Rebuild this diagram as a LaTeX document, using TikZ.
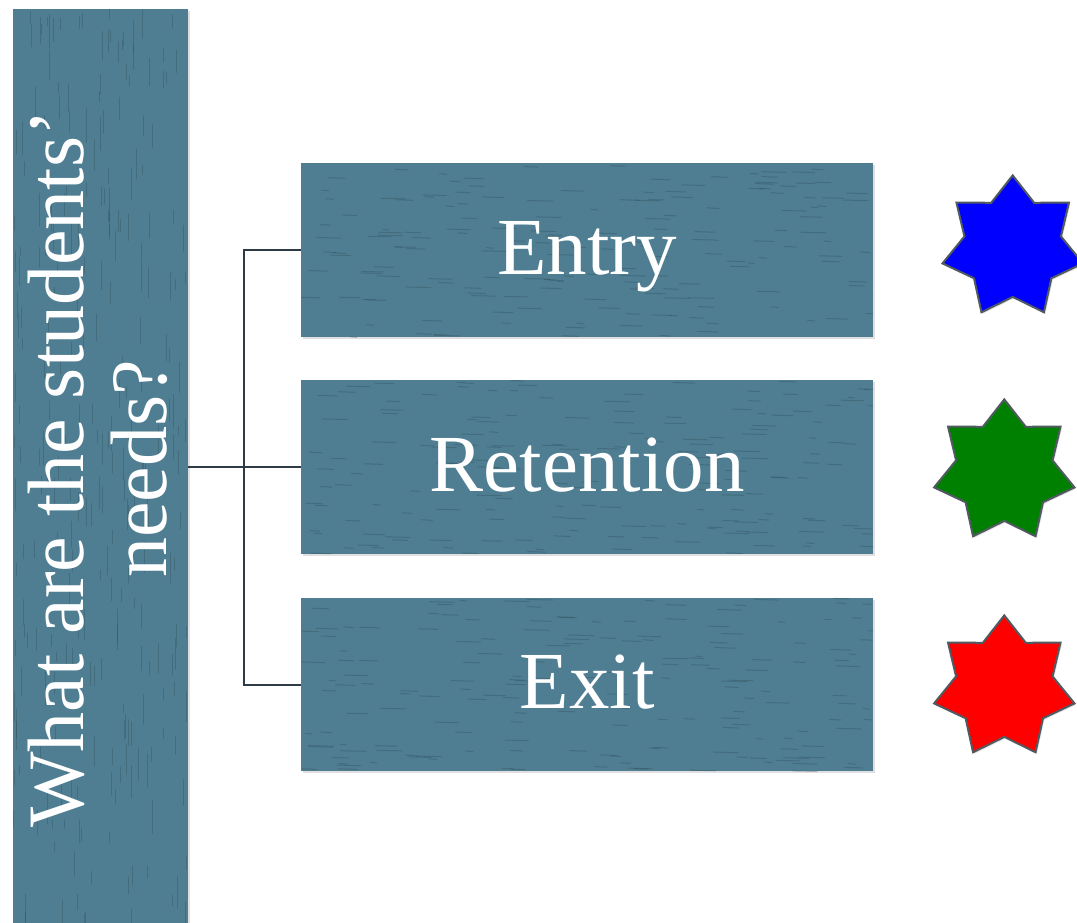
\documentclass[tikz,border=0pt]{standalone}
\usepackage{fontspec}
\setmainfont{Liberation Serif}
\usetikzlibrary{shadows}
\definecolor{tealbox}{RGB}{79,126,146}
\definecolor{streak}{RGB}{36,62,74}
\definecolor{connc}{RGB}{46,59,69}
\definecolor{starline}{RGB}{80,90,96}
\definecolor{starblue}{RGB}{0,0,255}
\definecolor{stargreen}{RGB}{0,128,0}
\definecolor{starred}{RGB}{255,0,0}
\begin{document}
\begin{tikzpicture}[x=1pt,y=-1pt,
  panel/.style={rectangle, fill=tealbox, inner sep=0pt, draw=none,
    drop shadow={shadow xshift=2pt, shadow yshift=-2pt, opacity=0.25}},
  lbl/.style={text=white, font=\fontsize{81}{81}\selectfont, inner sep=0pt, anchor=base},
  qlbl/.style={text=white, font=\fontsize{80}{80}\selectfont, inner sep=0pt, anchor=base, rotate=90},
  conn/.style={draw=connc, line width=2pt},
  streakline/.style={draw=streak, opacity=0.28, line width=1pt, line cap=round},
  starshape/.style={draw=starline, line width=2pt,
    drop shadow={shadow xshift=1.5pt, shadow yshift=-1.5pt, opacity=0.2}}]
\useasboundingbox (0,0) rectangle (1077,923);

% left bar
\node[panel, minimum width=175pt, minimum height=916pt] (bar) at (100.5,467) {};
\begin{scope}
  \clip (13,9) rectangle (188,925);
  \pgfmathsetseed{11}
  \foreach \k in {1,...,260}{
    \pgfmathsetmacro\xx{13+175*rnd}
    \pgfmathsetmacro\yy{9+916*rnd}
    \pgfmathsetmacro\ll{8+26*rnd}
    \draw[streakline] (\xx,\yy) -- ++(0,\ll);
  }
\end{scope}

% boxes
\node[panel, minimum width=572pt, minimum height=174pt] (entry) at (587,250) {};
\node[panel, minimum width=572pt, minimum height=174pt] (ret) at (587,467) {};
\node[panel, minimum width=572pt, minimum height=173pt] (exit) at (587,684.5) {};
\pgfmathsetseed{5}
\foreach \cy in {250,467,684.5}{
  \begin{scope}
    \clip (301,\cy-87) rectangle (873,\cy+87);
    \foreach \k in {1,...,170}{
      \pgfmathsetmacro\xx{301+572*rnd}
      \pgfmathsetmacro\yy{\cy-87+174*rnd}
      \pgfmathsetmacro\ll{6+20*rnd}
      \draw[streakline] (\xx,\yy) -- ++(\ll,0.6);
    }
  \end{scope}
}

% labels
\node[lbl] (tentry) at (587,274) {Entry};
\node[lbl] (tret) at (587,491) {Retention};
\node[lbl] (texit) at (587,708) {Exit};
\node[qlbl] (q1) at (83,469) {What are the students’};
\node[qlbl] (q2) at (166,469) {needs?};

% connectors
\coordinate (hub) at (244,467);
\draw[conn] (bar.east |- ret.west) -- (ret.west);
\draw[conn] (entry.west) -| (hub) |- (exit.west);

% stars
\foreach \cx/\cy/\col in {1012.7/247.4/starblue, 1004.3/471.4/stargreen, 1004.3/687.4/starred}{
  \begin{scope}[shift={(\cx,\cy)}, x=1pt, y=1pt]
    \draw[starshape, fill=\col] (90:72)
      \foreach \i in {1,...,13}{ -- ({90+\i*360/14}:{72-22.5*mod(\i,2)}) } -- cycle;
  \end{scope}
}
\end{tikzpicture}
\end{document}
